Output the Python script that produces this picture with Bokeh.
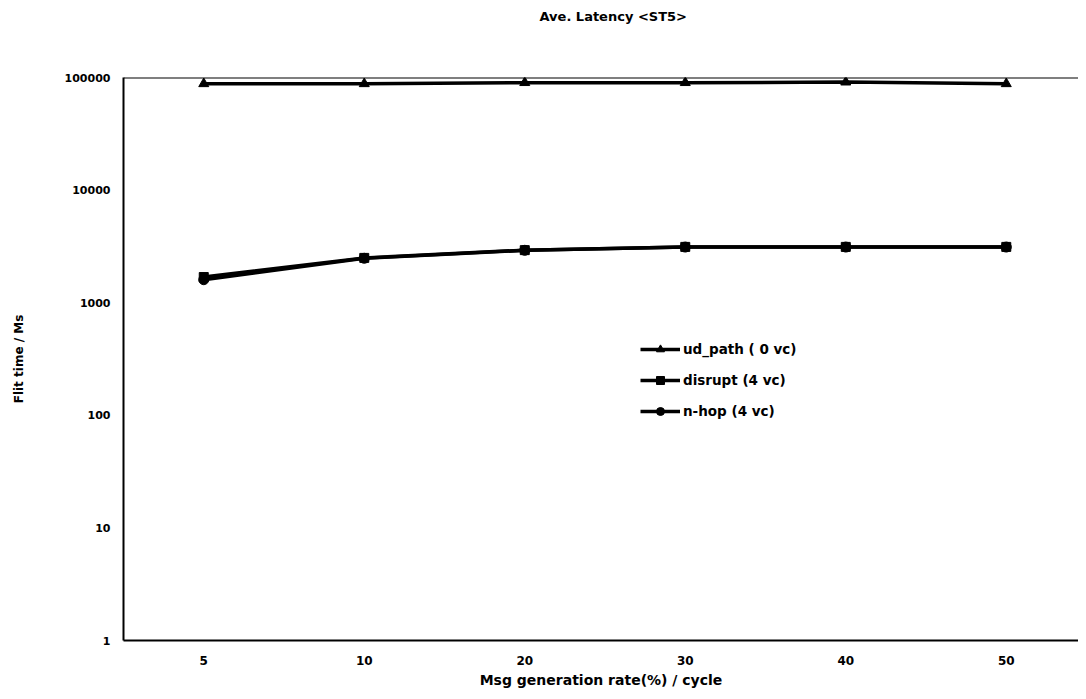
from bokeh.plotting import figure
from bokeh.models import Range1d, FixedTicker, Span, Legend, LegendItem, Title
from bokeh.embed import file_html
from bokeh.resources import INLINE

categories = ["5", "10", "20", "30", "40", "50"]
ud_path = [88000, 88000, 90000, 90000, 91000, 88000]
disrupt = [1690, 2500, 2930, 3130, 3130, 3130]
n_hop = [1600, 2480, 2920, 3120, 3120, 3120]
y_ticks = [1, 10, 100, 1000, 10000, 100000]
title_text = "Ave. Latency <ST5>"

FONT = "DejaVu Sans"
xs = list(range(len(categories)))

p = figure(width=1078, height=690, output_backend="svg", toolbar_location=None,
           y_axis_type="log", x_range=Range1d(-0.5, 5.45), y_range=Range1d(1, 100000),
           min_border_left=123, min_border_right=0, min_border_top=77, min_border_bottom=50)
p.title.text = title_text
p.title.text_font = FONT
p.title.text_font_size = "13px"
p.title.text_font_style = "bold"
p.title.text_color = "black"
p.title.align = "left"
p.title.offset = 416
p.title.vertical_align = "bottom"
p.title.standoff = 10
# spacer between the frame and the title, pushing the title up
p.add_layout(Title(text=" ", text_font_size="1px", standoff=46), "above")
p.outline_line_color = None
p.background_fill_color = "white"
p.border_fill_color = "white"
p.xgrid.visible = False
p.ygrid.visible = False

for ax in (p.xaxis[0], p.yaxis[0]):
    ax.axis_line_color = "black"
    ax.axis_line_width = 2
    ax.major_tick_line_color = None
    ax.minor_tick_line_color = None
    ax.major_label_text_font = FONT
    ax.major_label_text_font_style = "bold"
    ax.major_label_text_font_size = "11px"
    ax.major_label_text_color = "black"
    ax.axis_label_text_font = FONT
    ax.axis_label_text_font_style = "bold"
    ax.axis_label_text_color = "black"

p.xaxis.ticker = FixedTicker(ticks=xs)
p.xaxis.major_label_overrides = {i: c for i, c in enumerate(categories)}
p.xaxis.major_label_text_font_size = "12px"
p.xaxis.major_label_standoff = 9
p.xaxis.axis_label = "Msg generation rate(%) / cycle"
p.xaxis.axis_label_text_font_size = "14px"
p.xaxis.axis_label_standoff = 4

p.yaxis.ticker = FixedTicker(ticks=y_ticks)
p.yaxis.major_label_overrides = {t: str(t) for t in y_ticks}
p.yaxis.major_label_standoff = 7
p.yaxis.axis_label = "Flit time / Ms"
p.yaxis.axis_label_text_font_size = "12px"
p.yaxis.axis_label_standoff = 36

p.add_layout(Span(location=100000, dimension="width", line_color="black", line_width=2))

l1 = p.line(xs, ud_path, line_color="black", line_width=3.5)
m1 = p.scatter(xs, ud_path, marker="triangle", size=10, color="black")
l2 = p.line(xs, disrupt, line_color="black", line_width=3.5)
m2 = p.scatter(xs, disrupt, marker="square", size=9, color="black")
l3 = p.line(xs, n_hop, line_color="black", line_width=3.5)
m3 = p.scatter(xs, n_hop, marker="circle", size=10, color="black")

legend = Legend(items=[
    LegendItem(label="ud_path ( 0 vc)", renderers=[l1, m1]),
    LegendItem(label="disrupt (4 vc)", renderers=[l2, m2]),
    LegendItem(label="n-hop (4 vc)", renderers=[l3, m3]),
], location=(517, 219), padding=0, margin=0, spacing=11, glyph_width=40,
    glyph_height=20, label_height=20, label_standoff=3, border_line_color=None,
    background_fill_alpha=0, label_text_font=FONT, label_text_font_style="bold",
    label_text_font_size="13.5px", label_text_color="black")
p.add_layout(legend, "center")

open("out.html", "w").write(file_html(p, INLINE))
